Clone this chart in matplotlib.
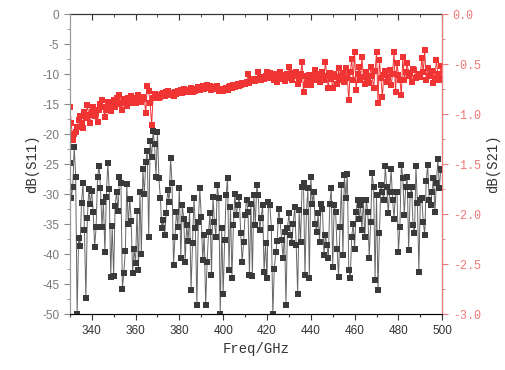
import numpy as np
import matplotlib
matplotlib.use('Agg')
import matplotlib.pyplot as plt
from matplotlib.ticker import MultipleLocator, FormatStrFormatter

plt.rcParams['axes.unicode_minus'] = False

# dB(S11), left axis, read in 10 GHz blocks from 330 to 500
s11 = [
    -24.8, -30.7, -28.8, -22.1, -27.1, -50.0, -37.3, -38.6, -31.5, -28.2, -36.0, -47.3, -34.0, -29.2, -31.6,
    -29.5, -32.9, -38.8, -35.5, -27.1, -25.3, -29.0, -35.5, -31.3, -39.7, -30.4, -24.8, -29.2, -43.8, -35.3,
    -43.6, -31.9, -29.7, -32.8, -27.1, -28.2, -45.8, -43.1, -39.4, -28.3, -35.0, -30.8, -34.4, -43.1, -39.2,
    -41.4, -32.8, -42.6, -29.6, -40.0, -25.8, -30.0, -24.7, -22.8, -37.2, -21.2, -23.9, -19.5, -21.7, -27.1,
    -19.6, -27.4, -30.7, -35.7, -34.3, -36.8, -33.2, -29.3, -31.3, -24.0, -28.2, -41.8, -37.1, -32.9, -35.4,
    -29.0, -40.7, -31.8, -34.1, -41.3, -35.2, -37.8, -32.7, -46.0, -38.2, -30.7, -35.7, -48.4, -34.6, -29.0,
    -33.8, -41.0, -36.8, -48.5, -41.3, -36.3, -33.2, -43.5, -30.4, -34.6, -37.1, -28.5, -30.7, -50.0, -35.7,
    -46.6, -37.7, -30.2, -27.3, -42.7, -32.1, -44.0, -35.2, -29.9, -33.5, -31.8, -30.4, -36.5, -41.3, -38.0,
    -33.5, -30.9, -32.9, -43.5, -31.6, -43.6, -30.2, -35.2, -28.5, -30.2, -36.0, -34.0, -31.8, -43.0, -38.2,
    -44.0, -31.3, -31.8, -35.7, -50.0, -42.5, -39.7, -37.8, -32.4, -34.5, -37.7, -40.7, -36.3, -48.5, -35.7,
    -33.2, -36.8, -38.2, -34.9, -32.1, -38.5, -46.6, -32.7, -38.0, -28.8, -28.2, -43.5, -32.9, -29.0, -44.0,
    -27.1, -31.6, -29.6, -35.0, -36.3, -33.2, -38.0, -31.6, -32.4, -40.2, -36.8, -38.5, -40.7, -31.6, -29.0,
    -42.1, -31.8, -33.0, -39.1, -43.8, -35.4, -28.5, -40.2, -26.8, -30.7, -26.6, -42.6, -44.0, -37.2, -34.9,
    -39.1, -32.9, -30.9, -34.1, -31.8, -36.0, -30.9, -37.2, -30.9, -32.9, -40.6, -34.6, -26.5, -28.8, -44.3,
    -30.2, -46.0, -36.5, -28.5, -29.6, -30.9, -25.4, -28.8, -33.2, -29.6, -25.9, -31.0, -34.1, -29.6, -29.6,
    -39.6, -35.4, -25.1, -27.3, -33.4, -28.8, -27.1, -39.3, -30.2, -28.8, -35.2, -36.5, -25.4, -31.5, -42.9,
    -30.9, -30.7, -34.6, -36.8, -27.9, -25.1, -30.9, -31.8, -29.6, -27.3, -33.0, -28.2, -24.2, -29.0, -25.8, -26.0,
]

# dB(S21), right axis
s21 = [
    -0.93, -1.09, -1.26, -1.20, -1.18, -1.13, -1.06, -1.02, -1.09, -1.14, -0.98, -1.04, -0.91, -1.01, -1.09,
    -0.98, -0.93, -1.02, -0.99, -1.08, -0.96, -0.90, -0.86, -0.93, -1.03, -0.96, -0.88, -0.91, -0.97, -0.89,
    -0.86, -0.93, -0.84, -0.90, -0.81, -0.89, -0.96, -0.85, -0.88, -0.92, -0.84, -0.87, -0.82, -0.89, -0.86,
    -0.89, -0.84, -0.81, -0.86, -0.88, -0.83, -0.85, -0.99, -0.72, -0.77, -0.89, -1.11, -0.84, -0.80, -0.83,
    -0.81, -0.84, -0.83, -0.80, -0.79, -0.82, -0.78, -0.77, -0.80, -0.81, -0.79, -0.82, -0.78, -0.80, -0.77,
    -0.78, -0.76, -0.79, -0.75, -0.77, -0.78, -0.76, -0.77, -0.74, -0.78, -0.76, -0.77, -0.75, -0.73, -0.76,
    -0.74, -0.72, -0.75, -0.73, -0.71, -0.74, -0.72, -0.76, -0.73, -0.75, -0.74, -0.72, -0.77, -0.75, -0.76,
    -0.77, -0.75, -0.74, -0.76, -0.73, -0.72, -0.74, -0.71, -0.73, -0.72, -0.70, -0.72, -0.71, -0.69, -0.70,
    -0.70, -0.68, -0.60, -0.69, -0.67, -0.66, -0.65, -0.67, -0.66, -0.58, -0.64, -0.66, -0.63, -0.65, -0.62,
    -0.58, -0.64, -0.59, -0.62, -0.61, -0.66, -0.60, -0.68, -0.62, -0.58, -0.65, -0.61, -0.67, -0.63, -0.60,
    -0.53, -0.64, -0.66, -0.59, -0.62, -0.58, -0.70, -0.66, -0.60, -0.48, -0.78, -0.62, -0.71, -0.65, -0.61,
    -0.71, -0.61, -0.66, -0.56, -0.64, -0.60, -0.68, -0.63, -0.58, -0.66, -0.48, -0.62, -0.74, -0.59, -0.65,
    -0.74, -0.60, -0.63, -0.70, -0.54, -0.66, -0.62, -0.59, -0.68, -0.54, -0.64, -0.86, -0.58, -0.45, -0.66,
    -0.38, -0.76, -0.60, -0.53, -0.66, -0.43, -0.63, -0.70, -0.58, -0.64, -0.69, -0.53, -0.62, -0.74, -0.57,
    -0.38, -0.89, -0.46, -0.64, -0.83, -0.61, -0.57, -0.68, -0.63, -0.56, -0.71, -0.60, -0.38, -0.78, -0.49,
    -0.61, -0.66, -0.81, -0.43, -0.66, -0.58, -0.49, -0.62, -0.59, -0.68, -0.55, -0.56, -0.64, -0.63, -0.60,
    -0.63, -0.44, -0.58, -0.36, -0.66, -0.54, -0.62, -0.61, -0.57, -0.69, -0.64, -0.46, -0.60, -0.66, -0.52, -0.64,
]

f_start, f_stop = 330, 500
freq11 = np.linspace(f_start, f_stop, len(s11))
freq21 = np.linspace(f_start, f_stop, len(s21))

red = '#f03434'
red_axis = '#f07878'
mono = 'Liberation Mono'
sans = 'Liberation Sans'

fig = plt.figure(figsize=(5.06, 3.70), dpi=100)
ax = fig.add_axes([0.138, 0.151, 0.736, 0.811])
ax2 = ax.twinx()

ax.plot(freq11, s11, '-', color='#666666', lw=0.7)
ax.plot(freq11, s11, 's', color='#3a3a3a', ms=4.8, mew=0)
ax2.plot(freq21, s21, '-', color=red, lw=0.7)
ax2.plot(freq21, s21, 's', color=red, ms=4.8, mew=0)

ax.set_xlim(f_start, f_stop)
ax.set_ylim(-50, 0)
ax2.set_ylim(-3.0, 0.0)

ax.xaxis.set_major_locator(MultipleLocator(20))
ax.xaxis.set_minor_locator(MultipleLocator(10))
ax.yaxis.set_major_locator(MultipleLocator(5))
ax.yaxis.set_minor_locator(MultipleLocator(2.5))
ax2.yaxis.set_major_locator(MultipleLocator(0.5))
ax2.yaxis.set_minor_locator(MultipleLocator(0.25))
ax2.yaxis.set_major_formatter(FormatStrFormatter('%.1f'))

ax.tick_params(axis='x', which='both', direction='out', colors='#333333', labelsize=8.5)
ax.tick_params(axis='x', which='major', length=4, width=0.8)
ax.tick_params(axis='x', which='minor', length=2.5, width=0.8)
ax.tick_params(axis='y', which='both', direction='out', colors='#888888', labelcolor='#777777', labelsize=8.5)
ax.tick_params(axis='y', which='major', length=4)
ax.tick_params(axis='y', which='minor', length=2.5)
ax2.tick_params(axis='y', which='both', direction='out', colors=red_axis, labelsize=8.5)
ax2.tick_params(axis='y', which='major', length=4)
ax2.tick_params(axis='y', which='minor', length=2.5)

for lab in ax.get_xticklabels() + ax.get_yticklabels():
    lab.set_family(sans)
for lab in ax2.get_yticklabels():
    lab.set_family(mono)

# top axis ticks point inward, without labels
ax_top = ax.secondary_xaxis('top')
ax_top.xaxis.set_major_locator(MultipleLocator(20))
ax_top.xaxis.set_minor_locator(MultipleLocator(10))
ax_top.tick_params(which='both', direction='in', labeltop=False, color='#333333')
ax_top.tick_params(which='major', length=4)
ax_top.tick_params(which='minor', length=2.5)

ax.spines['left'].set_color('#999999')
ax.spines['bottom'].set_color('#333333')
ax.spines['top'].set_color('#333333')
ax2.spines['right'].set_color(red_axis)
ax2.spines['left'].set_color('#999999')
ax2.spines['top'].set_visible(False)
ax_top.spines['top'].set_color('#333333')

ax.set_xlabel('Freq/GHz', family=mono, fontsize=10, color='#333333', labelpad=4)
ax.set_ylabel('dB(S11)', family=mono, fontsize=10, color='#333333', labelpad=2)
ax2.set_ylabel('dB(S21)', family=mono, fontsize=10, color='#333333', labelpad=4)

fig.savefig('out.png', dpi=100)
